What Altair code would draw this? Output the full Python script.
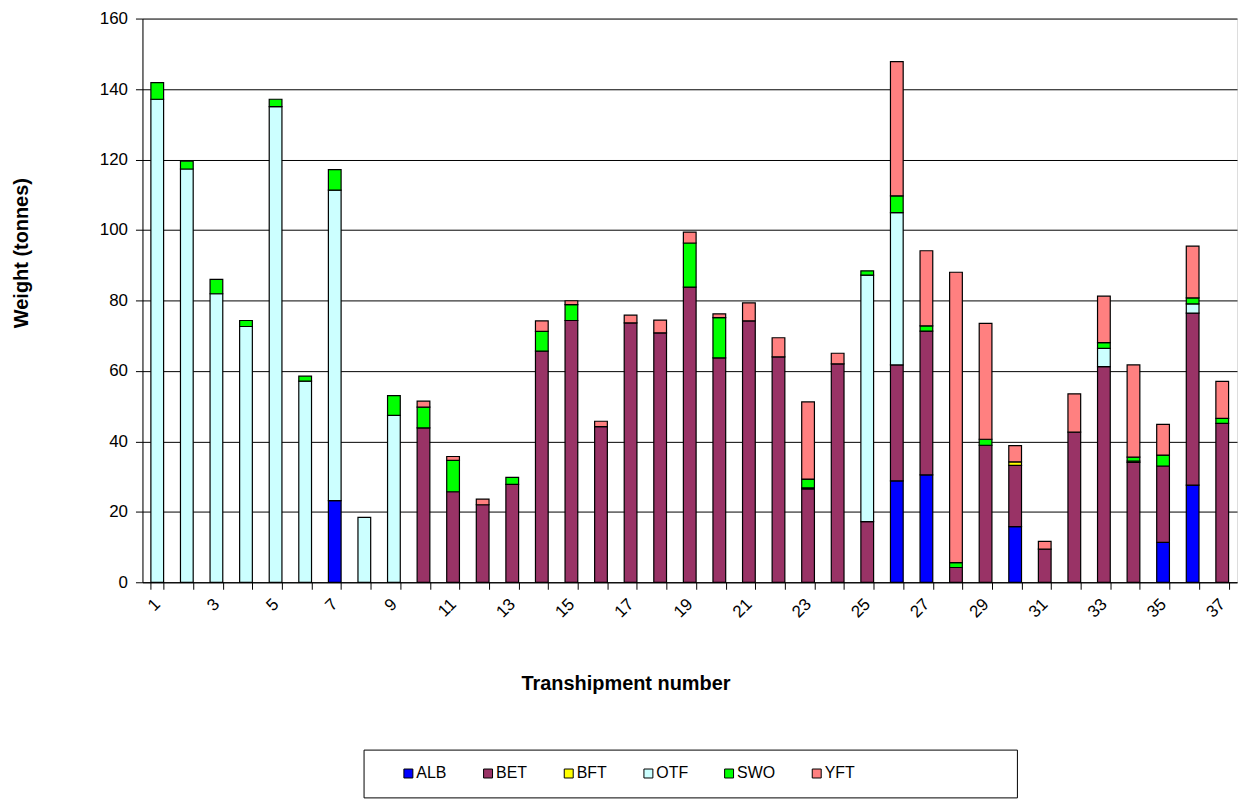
import altair as alt
import pandas as pd

transhipments = list(range(1, 38))
species = ["ALB", "BET", "BFT", "OTF", "SWO", "YFT"]
colors = ["#0000FF", "#993366", "#FFFF00", "#CCFFFF", "#00FF00", "#FF8080"]

ALB = [0, 0, 0, 0, 0, 0, 23.2, 0, 0, 0,
       0, 0, 0, 0, 0, 0, 0, 0, 0, 0,
       0, 0, 0, 0, 0, 28.8, 30.5, 0, 0, 15.8,
       0, 0, 0, 0, 11.3, 27.6, 0]
BET = [0, 0, 0, 0, 0, 0, 0, 0, 0, 43.8,
       25.7, 22.0, 27.8, 65.6, 74.3, 44.2, 73.6, 70.8, 83.8, 63.7,
       74.2, 64.0, 26.5, 62.0, 17.2, 32.9, 40.8, 4.2, 38.9, 17.4,
       9.4, 42.6, 61.2, 34.0, 21.7, 48.8, 45.1]
BFT = [0, 0, 0, 0, 0, 0, 0, 0, 0, 0,
       0, 0, 0, 0, 0, 0, 0, 0, 0, 0,
       0, 0, 0.3, 0, 0, 0, 0, 0, 0, 1.0,
       0, 0, 0, 0.4, 0, 0, 0]
OTF = [137.1, 117.3, 81.9, 72.6, 135.0, 57.1, 88.1, 18.4, 47.4, 0,
       0, 0, 0, 0, 0, 0, 0, 0, 0, 0,
       0, 0, 0, 0, 70.0, 43.2, 0, 0, 0, 0,
       0, 0, 5.2, 0, 0, 2.6, 0]
SWO = [4.7, 2.2, 4.1, 1.7, 2.1, 1.4, 5.8, 0, 5.6, 5.9,
       8.9, 0, 2.0, 5.6, 4.5, 0, 0, 0, 12.5, 11.4,
       0, 0, 2.5, 0, 1.2, 4.8, 1.5, 1.4, 1.7, 0,
       0, 0, 1.6, 1.1, 3.1, 1.7, 1.4]
YFT = [0, 0, 0, 0, 0, 0, 0, 0, 0, 1.7,
       1.1, 1.6, 0, 3.0, 1.1, 1.5, 2.2, 3.6, 3.1, 1.1,
       5.1, 5.4, 21.9, 3.0, 0, 38.1, 21.3, 82.4, 32.9, 4.6,
       2.2, 10.9, 13.2, 26.2, 8.7, 14.7, 10.5]

series = {"ALB": ALB, "BET": BET, "BFT": BFT, "OTF": OTF, "SWO": SWO, "YFT": YFT}
rows = []
for k, sp in enumerate(species):
    for t, v in zip(transhipments, series[sp]):
        if v > 0:
            rows.append({"Transhipment": t, "Species": sp, "Weight": v, "ord": k})
df = pd.DataFrame(rows)

FONT = "Liberation Sans"
# trailing blank space inside the legend frame (ends with a zero-width char so it is not trimmed)
yft_label = "YFT" + "\u00a0" * 33 + "\u200b"
label_expr = "datum.label == 'YFT' ? '" + yft_label + "' : datum.label"

chart = alt.Chart(df).mark_bar(stroke="black", strokeWidth=1.2).encode(
    x=alt.X("Transhipment:O",
            scale=alt.Scale(paddingInner=0.57, paddingOuter=0.285),
            axis=alt.Axis(
                title="Transhipment number",
                titleFont=FONT, titleFontSize=20, titleFontWeight="bold", titleColor="black",
                titleX=485, titleY=102, titleAlign="center", titleBaseline="middle",
                labelExpr="datum.value % 2 == 1 ? datum.label : ''",
                labelAngle=315, labelAlign="right", labelBaseline="middle",
                labelFont=FONT, labelFontSize=17, labelColor="black", labelPadding=12,
                tickBand="extent", tickSize=7, tickColor="black",
                domainColor="black", grid=False)),
    y=alt.Y("sum(Weight):Q",
            scale=alt.Scale(domain=[0, 160], nice=False),
            axis=alt.Axis(
                title="Weight (tonnes)", values=list(range(0, 161, 20)),
                titleFont=FONT, titleFontSize=20, titleFontWeight="bold", titleColor="black",
                titleX=-121, titleY=235, titleAngle=270, titleAlign="center", titleBaseline="middle",
                labelFont=FONT, labelFontSize=17, labelColor="black", labelPadding=8,
                tickSize=7, tickColor="black", domainColor="black",
                grid=True, gridColor="black", gridWidth=1)),
    color=alt.Color("Species:N",
                    scale=alt.Scale(domain=species, range=colors),
                    legend=alt.Legend(
                        orient="none", legendX=222, legendY=734,
                        direction="horizontal", columns=6, gridAlign="each",
                        columnPadding=33,
                        symbolType="square", symbolSize=81,
                        symbolStrokeColor="black", symbolStrokeWidth=1,
                        labelFont=FONT, labelFontSize=16, labelColor="black",
                        labelOffset=0, labelLimit=400, labelExpr=label_expr,
                        padding=16, strokeColor="black", fillColor="white",
                        title="\u00a0\u200b", titleOrient="left", titlePadding=21,
                        titleFontSize=16)),
    order=alt.Order("ord:Q", sort="ascending"),
).properties(
    width=1099, height=566,
    autosize=alt.AutoSizeParams(type="none"),
    padding={"left": 135, "top": 9, "right": 5, "bottom": 218},
).configure_view(
    stroke="black", strokeWidth=1
).configure(background="white")

chart.save("out.html", embed_options={"renderer": "svg", "actions": False})
